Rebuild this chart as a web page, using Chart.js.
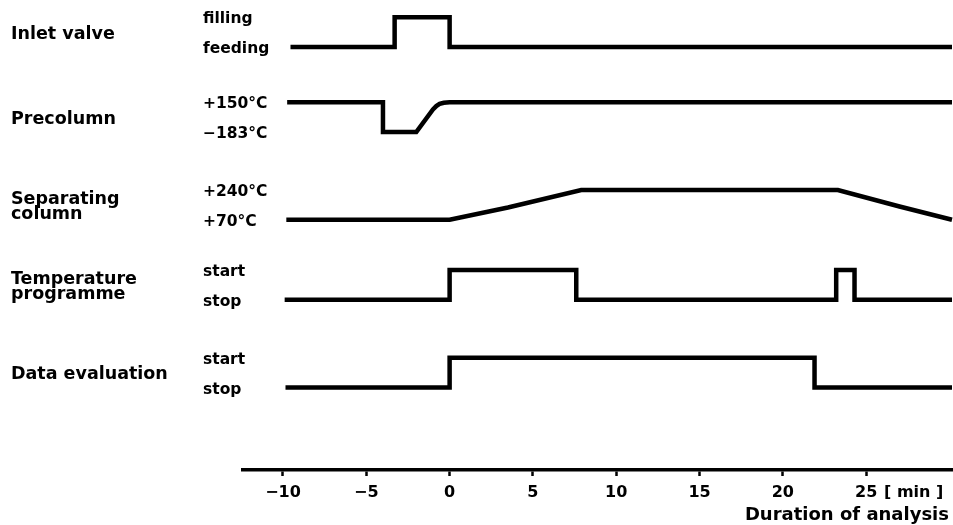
<!DOCTYPE html>
<html>
<head>
<meta charset="utf-8">
<script src="https://cdn.jsdelivr.net/npm/chart.js@4.4.1/dist/chart.umd.min.js"></script>
<style>
  html, body { margin: 0; padding: 0; background: #fff; }
  canvas { display: block; }
</style>
</head>
<body>
<canvas id="chart" width="953" height="525"></canvas>
<script>
// rows of the timing diagram, top to bottom
const rowNames = [['Inlet valve'], ['Precolumn'], ['Separating', 'column'], ['Temperature', 'programme'], ['Data evaluation']]
const levelNames = [['filling', 'feeding'], ['+150°C', '−183°C'], ['+240°C', '+70°C'], ['start', 'stop'], ['start', 'stop']]
const xTicks = [-10, -5, 0, 5, 10, 15, 20, 25]

// inlet valve: 1 = filling, 0 = feeding
const inletTime = [-9.55, -3.3, -3.3, 0, 0, 30.15]
const inletState = [0, 0, 1, 1, 0, 0]

// precolumn temperature (°C)
const precolTime = [-9.75, -4.0, -4.0, -2.0, -1.0, -0.8, -0.6, -0.35, 0, 30.15]
const precolTemp = [150, 150, -183, -183, 70, 108, 132, 145, 150, 150]

// separating column temperature (°C)
const sepTime = [-9.8, 0, 3.5, 7.9, 23.3, 27.0, 30.15]
const sepTemp = [70, 70, 140, 240, 240, 146, 70]

// temperature programme: 1 = start, 0 = stop
const progTime = [-9.9, 0, 0, 7.6, 7.6, 23.2, 23.2, 24.3, 24.3, 30.15]
const progState = [0, 0, 1, 1, 0, 0, 1, 1, 0, 0]

// data evaluation: 1 = start, 0 = stop
const evalTime = [-9.85, 0, 0, 21.9, 21.9, 30.15]
const evalState = [0, 0, 1, 1, 0, 0]

const rowBase = [5, 4, 2.97, 2.03, 1]
const rowAmp = 0.35
const rowRange = [[0, 1], [-183, 150], [70, 240], [0, 1], [0, 1]]
const series = [[inletTime, inletState], [precolTime, precolTemp], [sepTime, sepTemp], [progTime, progState], [evalTime, evalState]]

const FONT = '"DejaVu Sans", sans-serif'

const datasets = series.map(([t, v], i) => {
  const [lo, hi] = rowRange[i]
  return {
    label: rowNames[i].join(' '),
    data: t.map((x, k) => ({x: x, y: rowBase[i] + (v[k] - lo) / (hi - lo) * rowAmp})),
    showLine: true,
    borderColor: '#000',
    borderWidth: 4.5,
    pointRadius: 0,
    tension: 0,
    clip: false
  }
})

const labelsPlugin = {
  id: 'labels',
  afterDraw(chart) {
    const ctx = chart.ctx
    const y = chart.scales.y
    ctx.save()
    ctx.fillStyle = '#000'
    ctx.font = 'bold 17.5px ' + FONT
    ctx.textBaseline = 'middle'
    ctx.textAlign = 'left'
    rowNames.forEach((lines, i) => {
      const mid = y.getPixelForValue(rowBase[i] + rowAmp / 2) + 2
      lines.forEach((txt, j) => {
        const dy = lines.length === 1 ? 0 : (j === 0 ? -7.5 : 7.5)
        ctx.fillText(txt, 11, mid + dy)
      })
    })
    ctx.font = 'bold 15.5px ' + FONT
    levelNames.forEach(([high, low], i) => {
      ctx.fillText(high, 203, y.getPixelForValue(rowBase[i] + rowAmp) + 2)
      ctx.fillText(low, 203, y.getPixelForValue(rowBase[i]) + 2)
    })
    ctx.font = 'bold 16px ' + FONT
    ctx.fillText('[ min ]', 884, 493)
    ctx.font = 'bold 18px ' + FONT
    ctx.textAlign = 'right'
    ctx.fillText('Duration of analysis', 949, 515)
    ctx.restore()
  }
}

new Chart(document.getElementById('chart'), {
  type: 'scatter',
  data: {datasets},
  options: {
    responsive: false,
    animation: false,
    devicePixelRatio: 1,
    layout: {padding: {left: 243, right: 1, top: 0, bottom: 0}},
    plugins: {legend: {display: false}, tooltip: {enabled: false}},
    scales: {
      x: {
        type: 'linear',
        min: -12.4,
        max: 30.15,
        afterBuildTicks: scale => { scale.ticks = xTicks.map(v => ({value: v})) },
        afterFit: scale => { scale.height = 55 },
        grid: {drawOnChartArea: false, drawTicks: true, tickLength: 6, tickColor: '#000', tickWidth: 2.5},
        border: {display: true, color: '#000', width: 3.5},
        ticks: {
          color: '#000',
          padding: 7,
          font: {family: FONT, size: 16, weight: 'bold'},
          callback: v => v < 0 ? '−' + Math.abs(v) : String(v)
        }
      },
      y: {
        display: false,
        min: 0.031,
        max: 5.552
      }
    }
  },
  plugins: [labelsPlugin]
})
</script>
</body>
</html>
